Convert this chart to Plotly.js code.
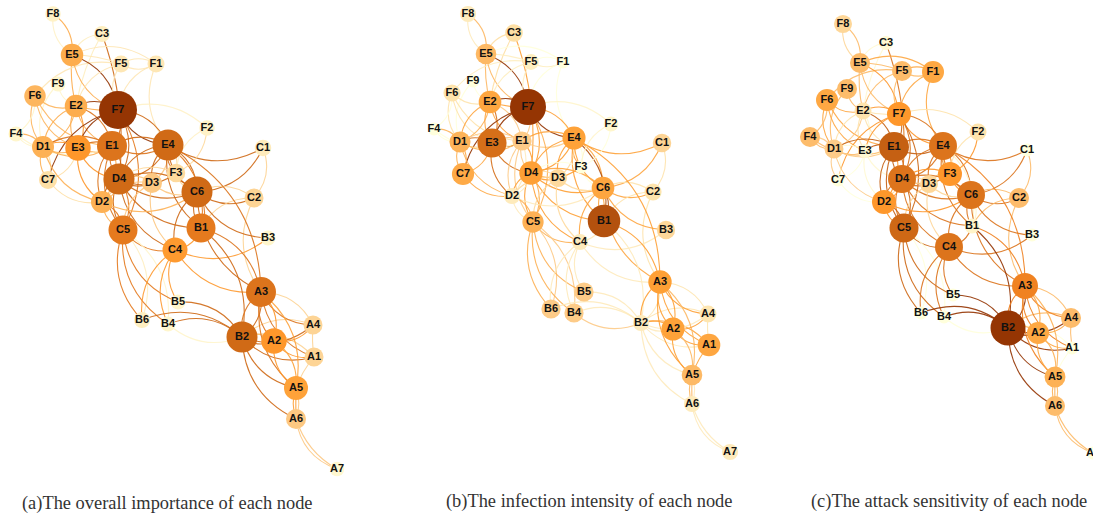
<!DOCTYPE html>
<html><head><meta charset="utf-8">
<script src="https://cdn.plot.ly/plotly-3.0.1.min.js"></script>
<style>html,body{margin:0;padding:0;background:#fff;overflow:hidden}#c{width:1093px;height:515px}</style>
</head><body><div id="c"></div>
<script>
const nodeNames=["F8","C3","E5","F5","F1","F9","F6","E2","F7","F2","F4","D1","E3","E1","E4","C1","C7","D4","D3","F3","C6","C2","D2","C5","B1","B3","C4","A3","B5","B6","B4","B2","A2","A4","A1","A5","A6","A7"];
const aX=[53,102,72,121,156,58,35,76,118,207,16,43,78,112,168,263,48,119,152,176,197,254,102,123,201,268,175,261,178,142,168,242,274,313,314,296,296,337];
const aY=[14,34,55,64,64,84,96,106,110,128,134,147,148,146,145,148,180,179,183,173,192,198,202,230,228,238,250,292,302,320,324,337,341,325,357,388,419,469];
const aVal=[10,12,38,16,16,8,34,38,100,10,8,36,50,68,72,14,20,72,28,22,72,24,36,64,64,8,48,68,8,12,8,72,50,24,24,44,28,6];
const bX=[468,514,486,531,563,473,452,490,528,611,434,460,492,522,574,662,463,531,558,581,603,653,512,533,604,666,580,660,584,551,574,641,673,708,709,692,692,730];
const bY=[14,33,54,62,62,81,93,102,107,124,129,142,143,141,138,143,174,173,178,167,188,192,196,222,221,230,242,282,292,309,313,323,329,314,345,375,404,452];
const bVal=[14,20,33,12,0,0,18,42,100,8,0,35,70,27,44,24,40,45,22,0,42,18,14,36,85,23,14,45,27,27,27,14,44,17,42,33,14,14];
const cX=[843,886,860,902,933,847,827,863,899,978,810,834,865,894,943,1027,838,902,929,950,971,1019,884,904,972,1032,949,1025,953,921,944,1008,1038,1071,1072,1055,1055,1093];
const cY=[24,43,63,71,72,89,100,111,114,132,137,149,151,147,146,150,180,179,184,174,195,198,202,228,226,235,247,286,295,313,317,328,333,318,348,377,406,453];
const cVal=[23,5,32,32,41,32,41,18,50,18,32,27,5,77,68,0,0,68,23,50,68,32,50,73,9,0,68,59,0,0,0,100,41,32,0,36,32,0];
const edgeList="E5>F8 F8>E5 C3>E5 D4>C3>.4 C3>E2>.3 F5>E5>.3 F1>E5 E5>E2>.3 F5>F6 F7>E5 E5>F7 F5>F1 F1>F5 F5>F7 F5>E2 F1>F7 F1>E4 F9>E2 F9>D1 F6>E2 F6>D1 F6>E3 F6>E1 F4>F6 E2>F7>.3 F7>E2 E2>D1 D1>E2 E2>E3 E3>E2 E2>E1 E1>E2 F7>E3 F7>C7 E1>F7 D4>F7 F7>E4 E4>F7 F2>F7 E3>D1 D1>E3 E3>E1 E1>E3 E3>D4 E3>D2 E1>E4 E4>E1 E1>D4 D4>E1 E1>D2 D2>E1 E1>C5 C5>F7 E4>F3 F3>E4 E4>D3 D3>E4 E4>D4 D4>E4 E4>C6 C6>E4 E4>B1 B1>E4 E4>C1 F2>F3 F3>F2 F3>C6 C6>C1 C2>C1 C6>C2 C2>C6 C2>B1 C2>A3 C6>B3 C4>B3 D4>D3 D3>D4 D4>F3 F3>D4 D4>C6 C6>D4 D4>B1 D4>C4 D4>C5 C5>D4 D4>D2 D2>D4 D3>C6 D3>C4 D3>C5 D3>D2 D2>C6 C6>B1 B1>C6 C6>C4 C7>D2 C7>E3 C7>D1 D1>C7 F4>D1 D1>F4 F4>E1 D1>E1 E1>D1 D1>D2 D2>C5 C5>D2 C5>C4 C5>B6 B6>C5 C5>B4 B4>C5 C5>B5 C4>B6 C4>B4 C4>B5 C4>A3 C4>B1 A3>B1 A3>E4 C6>A3 B2>B1 B2>B5 B2>B6 B2>B4 B4>B2 B2>A3 A3>B2 B2>A2 A2>B2 B2>A1 A1>B2 B2>A5 B2>A6 B2>A4 A4>B2 A3>A4 A4>A3 A3>A1 A3>A2 A2>A3 A3>A5 A5>A3 A2>A4 A2>A1 A2>A5 A5>A2 A4>A1>.2 A1>A5>.3 A5>A6>.6 A6>A5>.6 A5>A6>.04 A6>A7 A6>A7>.65";
const captions=["(a)The overall importance of each node","(b)The infection intensity of each node","(c)The attack sensitivity of each node"];

const scale=[[0,"#ffffdc"],[.08,"#fff6cc"],[.14,"#feebbc"],[.2,"#fee0a6"],[.27,"#fdcb88"],[.35,"#fdb359"],[.45,"#fea035"],[.52,"#fe9327"],[.6,"#ee8020"],[.68,"#dc741c"],[.72,"#d06a16"],[.85,"#b3510e"],[1,"#953503"]];
function hex(s){return [1,3,5].map(i=>parseInt(s.substr(i,2),16));}
function colorAt(v){const t=v/100;for(let i=1;i<scale.length;i++){if(t<=scale[i][0]){const f=(t-scale[i-1][0])/(scale[i][0]-scale[i-1][0]);const a=hex(scale[i-1][1]),b=hex(scale[i][1]);return "rgb("+a.map((x,j)=>Math.round(x+(b[j]-x)*f)).join(",")+")";}}return scale[scale.length-1][1];}
const panels=[{x:aX,y:aY,v:aVal,k:.25},{x:bX,y:bY,v:bVal,k:.23},{x:cX,y:cY,v:cVal,k:.22}];
const shapes=[],traces=[];
panels.forEach(p=>{
  edgeList.split(" ").forEach(e=>{
    const parts=e.split(">");
    const s=nodeNames.indexOf(parts[0]),t=nodeNames.indexOf(parts[1]),f=parts[2]?parseFloat(parts[2]):1;
    const x0=p.x[s],y0=p.y[s],x1=p.x[t],y1=p.y[t],dx=x1-x0,dy=y1-y0;
    const cx=(x0+x1)/2-dy*.3*f,cy=(y0+y1)/2+dx*.3*f;
    shapes.push({type:"path",xref:"x",yref:"y",layer:"below",opacity:.9,path:`M ${x0} ${y0} Q ${cx} ${cy} ${x1} ${y1}`,line:{color:colorAt(p.v[s]),width:1.1},fillcolor:"rgba(0,0,0,0)"});
  });
  traces.push({type:"scatter",mode:"markers+text",x:p.x,y:p.y,text:nodeNames,textposition:"middle center",cliponaxis:false,hoverinfo:"text",
    textfont:{family:"Liberation Sans",size:11,color:"#111",weight:"bold"},
    marker:{size:p.v.map(v=>13+p.k*v),color:p.v,cmin:0,cmax:100,colorscale:scale,line:{width:0},opacity:1}});
});
const capX=[20,444,809],capY=[503,501,501];
const annotations=captions.map((c,i)=>({text:c,x:capX[i],y:capY[i],xref:"x",yref:"y",xanchor:"left",yanchor:"middle",showarrow:false,font:{family:"Liberation Serif",size:18.4,color:"#333"}}));
Plotly.newPlot("c",traces,{width:1093,height:515,margin:{l:0,r:0,t:0,b:0},showlegend:false,paper_bgcolor:"#fff",plot_bgcolor:"#fff",
  xaxis:{range:[0,1093],visible:false,fixedrange:true},yaxis:{range:[515,0],visible:false,fixedrange:true},shapes,annotations},{displayModeBar:false,staticPlot:true});
</script></body></html>
